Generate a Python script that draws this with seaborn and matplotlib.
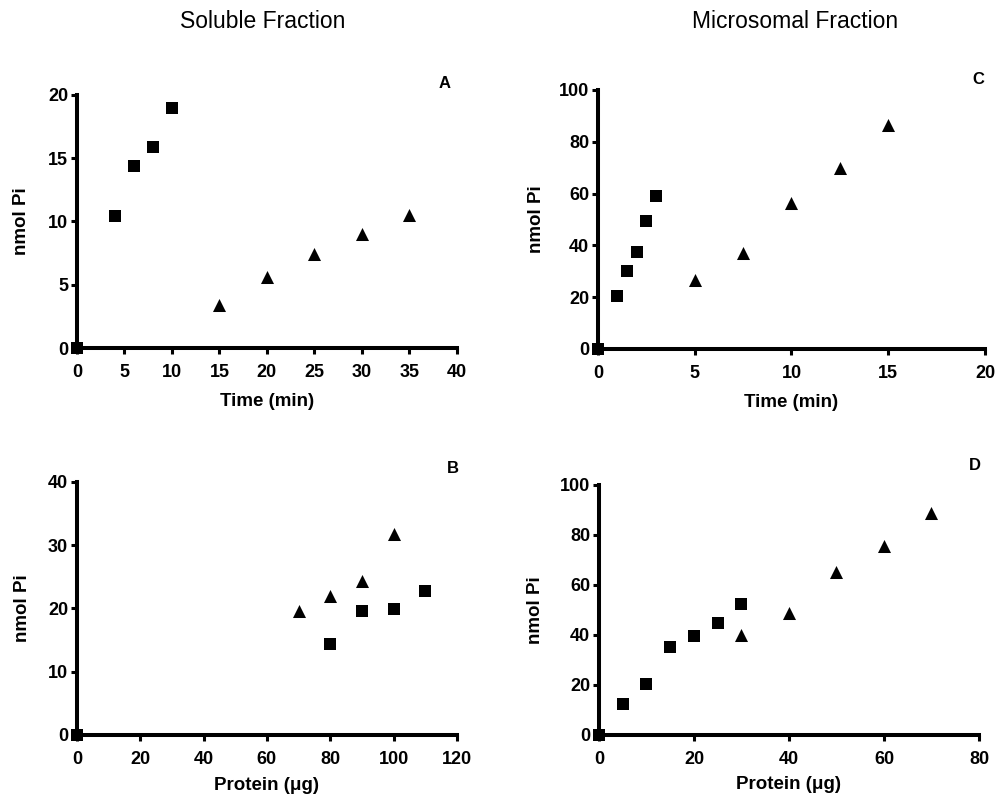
import matplotlib
matplotlib.use("Agg")
import matplotlib.pyplot as plt
import seaborn as sns
import pandas as pd

# Panel A: soluble fraction, time course
a_sq_x = [0, 4, 6, 8, 10]
a_sq_y = [0, 10.4, 14.4, 15.9, 19.0]
a_tri_x = [15, 20, 25, 30, 35]
a_tri_y = [3.4, 5.6, 7.4, 9.0, 10.5]

# Panel B: soluble fraction, protein dependence
b_sq_x = [0, 80, 90, 100, 110]
b_sq_y = [0, 14.4, 19.6, 19.9, 22.8]
b_tri_x = [70, 80, 90, 100]
b_tri_y = [19.6, 21.9, 24.3, 31.7]

# Panel C: microsomal fraction, time course
c_sq_x = [0, 1, 1.5, 2, 2.5, 3]
c_sq_y = [0, 20.6, 30.0, 37.4, 49.6, 59.1]
c_tri_x = [5, 7.5, 10, 12.5, 15]
c_tri_y = [26.5, 37.0, 56.3, 69.8, 86.5]

# Panel D: microsomal fraction, protein dependence
d_sq_x = [0, 5, 10, 15, 20, 25, 30]
d_sq_y = [0, 12.3, 20.3, 35.3, 39.6, 44.7, 52.3]
d_tri_x = [30, 40, 50, 60, 70]
d_tri_y = [40.0, 48.9, 65.3, 75.6, 88.7]

sns.set_theme(style="ticks")
plt.rcParams["font.family"] = ["Liberation Sans", "DejaVu Sans"]
plt.rcParams["font.weight"] = "bold"
plt.rcParams["axes.labelweight"] = "bold"
plt.rcParams["text.color"] = "black"
plt.rcParams["axes.labelcolor"] = "black"
plt.rcParams["xtick.color"] = "black"
plt.rcParams["ytick.color"] = "black"

fig = plt.figure(figsize=(10.02, 8.05), dpi=100)
fig.patch.set_facecolor("white")


def frame(sq_x, sq_y, tri_x, tri_y):
    return pd.concat([
        pd.DataFrame({"x": sq_x, "y": sq_y, "set": "sq"}),
        pd.DataFrame({"x": tri_x, "y": tri_y, "set": "tri"}),
    ], ignore_index=True)


panels = [
    # rect, data, xlim, xticks, ylim, yticks, xlabel, letter, ylabel_x, xlabel_y
    ([0.0768, 0.5677, 0.3792, 0.3143], frame(a_sq_x, a_sq_y, a_tri_x, a_tri_y),
     40, range(0, 41, 5), 20, range(0, 21, 5), "Time (min)", "A", -0.145, -0.213),
    ([0.0768, 0.0870, 0.3792, 0.3143], frame(b_sq_x, b_sq_y, b_tri_x, b_tri_y),
     120, range(0, 121, 20), 40, range(0, 41, 10), "Protein (\u03bcg)", "B", -0.142, -0.198),
    ([0.5968, 0.5665, 0.3862, 0.3217], frame(c_sq_x, c_sq_y, c_tri_x, c_tri_y),
     20, range(0, 21, 5), 100, range(0, 101, 20), "Time (min)", "C", -0.158, -0.205),
    ([0.5978, 0.0870, 0.3792, 0.3106], frame(d_sq_x, d_sq_y, d_tri_x, d_tri_y),
     80, range(0, 81, 20), 100, range(0, 101, 20), "Protein (\u03bcg)", "D", -0.168, -0.200),
]

for rect, df, xmax, xt, ymax, yt, xlab, letter, ylx, xly in panels:
    ax = fig.add_axes(rect)
    sq = df[df["set"] == "sq"]
    tri = df[df["set"] == "tri"]
    sns.scatterplot(data=sq, x="x", y="y", marker="s", s=74, color="black",
                    linewidth=0, ax=ax, clip_on=False, zorder=4)
    sns.scatterplot(data=tri, x="x", y="y", marker="^", s=88, color="black",
                    linewidth=0, ax=ax, clip_on=False, zorder=4)
    ax.set_xlim(0, xmax)
    ax.set_ylim(0, ymax)
    ax.set_xticks(list(xt))
    ax.set_yticks(list(yt))
    for side in ("top", "right"):
        ax.spines[side].set_visible(False)
    for side in ("left", "bottom"):
        ax.spines[side].set_linewidth(2.9)
        ax.spines[side].set_color("black")
    ax.tick_params(axis="both", direction="out", length=4.3, width=2.2,
                   color="black", labelsize=13, labelcolor="black")
    ax.tick_params(axis="x", pad=7)
    ax.tick_params(axis="y", pad=2)
    for lab in ax.get_xticklabels() + ax.get_yticklabels():
        lab.set_fontweight("bold")
        lab.set_color("black")
    ax.set_xlabel(xlab, fontsize=13.5, fontweight="bold", va="center", color="black")
    ax.set_ylabel("nmol Pi", fontsize=13.5, fontweight="bold", va="center", color="black")
    ax.xaxis.set_label_coords(0.5, xly)
    ax.yaxis.set_label_coords(ylx, 0.5)
    ax.set_facecolor("white")
    ax.grid(False)
    # panel letter in the upper right corner, in figure pixels
    pos = {"A": (445, 83), "B": (453, 468), "C": (978, 80), "D": (975, 465)}[letter]
    fig.text(pos[0] / 1002, 1 - pos[1] / 805, letter, fontsize=12,
             fontweight="bold", ha="center", va="center", color="black")

fig.text(263 / 1002, 1 - 21 / 805, "Soluble Fraction", fontsize=16.5,
         fontweight="normal", ha="center", va="center", color="black")
fig.text(795 / 1002, 1 - 21 / 805, "Microsomal Fraction", fontsize=16.5,
         fontweight="normal", ha="center", va="center", color="black")

fig.savefig("out.png", dpi=100, facecolor="white")
